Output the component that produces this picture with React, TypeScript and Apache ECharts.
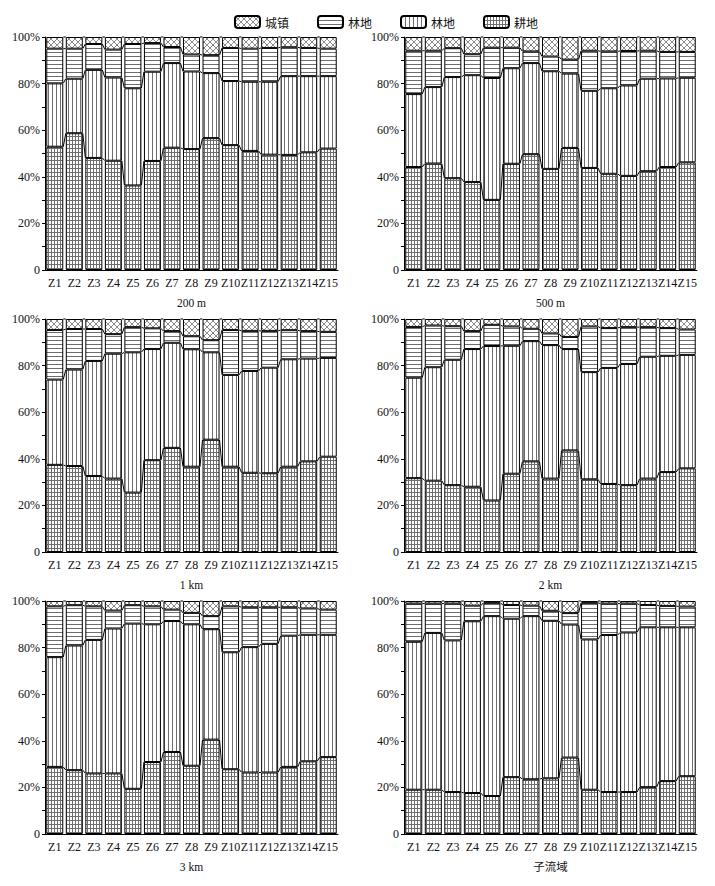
import React, { useEffect, useRef } from 'react';
import * as echarts from 'echarts';

const categories = ['Z1', 'Z2', 'Z3', 'Z4', 'Z5', 'Z6', 'Z7', 'Z8', 'Z9', 'Z10', 'Z11', 'Z12', 'Z13', 'Z14', 'Z15'];
const panelTitles = ['200 m', '500 m', '1 km', '2 km', '3 km', '子流域'];
const legendNames = ['城镇', '林地', '林地', '耕地'];

// 200 m
const town200m = [5.0, 5.0, 3.0, 5.4, 3.0, 2.6, 4.3, 7.5, 7.8, 4.7, 5.0, 4.7, 4.4, 4.7, 5.0];
const hLand200m = [14.9, 12.9, 11.1, 12.0, 19.0, 12.3, 6.9, 7.3, 7.7, 14.2, 14.2, 14.5, 12.4, 12.1, 11.8];
const vLand200m = [27.2, 23.4, 37.8, 35.7, 41.7, 38.3, 36.3, 33.3, 27.9, 27.5, 29.7, 31.3, 33.8, 32.7, 31.1];
const farm200m = [52.9, 58.7, 48.1, 46.9, 36.3, 46.8, 52.5, 51.9, 56.6, 53.6, 51.1, 49.5, 49.4, 50.5, 52.1];
// 500 m
const town500m = [5.9, 5.9, 4.8, 7.4, 4.6, 4.6, 6.2, 8.4, 9.7, 5.9, 6.2, 6.0, 5.9, 6.4, 6.4];
const hLand500m = [18.6, 15.6, 12.4, 9.0, 13.0, 8.8, 5.0, 6.3, 6.0, 17.2, 15.8, 14.8, 12.0, 11.4, 11.1];
const vLand500m = [31.3, 32.8, 43.4, 45.8, 52.3, 41.0, 39.1, 41.9, 31.9, 33.1, 36.7, 38.8, 39.7, 38.0, 36.3];
const farm500m = [44.2, 45.7, 39.4, 37.8, 30.1, 45.6, 49.7, 43.4, 52.4, 43.8, 41.3, 40.4, 42.4, 44.2, 46.2];
// 1 km
const town1km = [4.7, 4.3, 4.3, 6.5, 3.5, 4.0, 5.2, 7.4, 9.1, 4.7, 5.1, 5.1, 4.8, 5.2, 5.5];
const hLand1km = [21.3, 17.4, 13.7, 8.4, 10.8, 8.9, 5.0, 5.6, 5.2, 19.3, 17.2, 15.8, 12.5, 11.8, 11.2];
const vLand1km = [36.6, 41.4, 49.4, 53.6, 60.2, 47.7, 45.1, 50.4, 37.5, 39.4, 43.7, 45.3, 46.1, 44.1, 42.4];
const farm1km = [37.4, 36.9, 32.6, 31.5, 25.5, 39.4, 44.7, 36.6, 48.2, 36.6, 34.0, 33.8, 36.6, 38.9, 40.9];
// 2 km
const town2km = [3.4, 2.8, 3.1, 5.2, 2.5, 3.2, 4.2, 6.2, 7.7, 3.2, 3.9, 3.5, 3.5, 3.9, 4.5];
const hLand2km = [21.8, 17.9, 14.4, 7.7, 9.1, 8.3, 5.3, 5.0, 5.2, 19.6, 17.1, 15.8, 12.7, 11.9, 10.9];
const vLand2km = [43.1, 48.7, 53.8, 59.1, 66.3, 54.9, 51.6, 57.3, 43.5, 46.0, 49.8, 52.0, 52.3, 49.9, 48.7];
const farm2km = [31.7, 30.6, 28.7, 28.0, 22.1, 33.6, 38.9, 31.5, 43.6, 31.2, 29.2, 28.7, 31.5, 34.3, 35.9];
// 3 km
const town3km = [2.3, 1.8, 2.3, 4.1, 1.8, 2.3, 3.7, 5.1, 6.5, 2.3, 2.7, 2.7, 2.7, 3.2, 3.7];
const hLand3km = [21.8, 17.3, 14.4, 7.7, 7.9, 7.7, 4.9, 4.9, 5.6, 19.7, 17.1, 15.7, 12.2, 11.3, 10.8];
const vLand3km = [47.1, 53.5, 57.3, 62.2, 70.9, 59.1, 56.2, 60.7, 47.4, 50.2, 53.8, 55.2, 56.3, 54.3, 52.5];
const farm3km = [28.8, 27.4, 26.0, 26.0, 19.4, 30.9, 35.2, 29.3, 40.5, 27.8, 26.4, 26.4, 28.8, 31.2, 33.0];
// 子流域
const townSub = [1.1, 1.1, 1.1, 2.0, 0.8, 1.7, 2.0, 4.2, 5.2, 0.8, 1.1, 1.1, 1.7, 2.1, 2.4];
const hLandSub = [16.4, 12.6, 15.8, 6.7, 5.7, 5.9, 4.5, 4.3, 4.9, 15.7, 13.5, 12.4, 9.6, 9.2, 8.9];
const vLandSub = [63.5, 67.3, 65.1, 73.7, 77.2, 68.0, 70.0, 67.6, 57.1, 64.5, 67.4, 68.5, 68.6, 66.0, 63.9];
const farmSub = [19.0, 19.0, 18.0, 17.6, 16.3, 24.4, 23.5, 23.9, 32.8, 19.0, 18.0, 18.0, 20.1, 22.7, 24.8];

const panels = [
  { farm: farm200m, v: vLand200m, h: hLand200m, town: town200m },
  { farm: farm500m, v: vLand500m, h: hLand500m, town: town500m },
  { farm: farm1km, v: vLand1km, h: hLand1km, town: town1km },
  { farm: farm2km, v: vLand2km, h: hLand2km, town: town2km },
  { farm: farm3km, v: vLand3km, h: hLand3km, town: town3km },
  { farm: farmSub, v: vLandSub, h: hLandSub, town: townSub },
];

const GAP = 0.13;
const FONT = "'Liberation Serif', 'Noto Sans CJK SC', serif";
const LINE = '#6e6e6e';

function makePattern(kind: string) {
  let w = 4, h = 4;
  if (kind === 'cross') { w = 6; h = 6; }
  if (kind === 'grid') { w = 3; h = 4; }
  if (kind === 'h') { w = 4; h = 4; }
  if (kind === 'v') { w = 4; h = 4; }
  const c = document.createElement('canvas');
  c.width = w; c.height = h;
  const ctx = c.getContext('2d')!;
  ctx.fillStyle = '#ffffff';
  ctx.fillRect(0, 0, w, h);
  ctx.fillStyle = LINE;
  ctx.strokeStyle = LINE;
  if (kind === 'h') ctx.fillRect(0, 0, w, 1);
  if (kind === 'v') ctx.fillRect(0, 0, 1, h);
  if (kind === 'grid') { ctx.fillRect(0, 0, w, 1); ctx.fillRect(0, 0, 1, h); }
  if (kind === 'cross') {
    ctx.lineWidth = 0.8;
    ctx.beginPath();
    for (const k of [-w, 0, w]) {
      ctx.moveTo(k, 0); ctx.lineTo(k + w, h);
      ctx.moveTo(k + w, 0); ctx.lineTo(k, h);
    }
    ctx.stroke();
  }
  return { image: c, repeat: 'repeat', imageWidth: w, imageHeight: h } as any;
}

export default function App() {
  const ref = useRef<HTMLDivElement>(null);
  useEffect(() => {
    if (!ref.current) return;
    const chart = echarts.init(ref.current, null, { renderer: 'svg' });
    const pat = {
      cross: makePattern('cross'),
      h: makePattern('h'),
      v: makePattern('v'),
      grid: makePattern('grid'),
    };
    const tops = [37, 319, 601];
    const lefts = [45, 404];
    const grids: any[] = [];
    const xAxes: any[] = [];
    const yAxes: any[] = [];
    const series: any[] = [];
    panels.forEach((p, idx) => {
      const row = Math.floor(idx / 2);
      const col = idx % 2;
      grids.push({ left: lefts[col], top: tops[row], width: 293, height: 233 });
      xAxes.push({
        type: 'category', gridIndex: idx, data: categories,
        name: panelTitles[idx], nameLocation: 'middle', nameGap: 27,
        nameTextStyle: { fontFamily: FONT, fontSize: 11.5, color: '#111' },
        axisLine: { lineStyle: { color: '#000', width: 1 } },
        axisTick: { show: false },
        axisLabel: { interval: 0, fontFamily: FONT, fontSize: 12, color: '#111', margin: 7 },
      });
      yAxes.push({
        type: 'value', gridIndex: idx, min: 0, max: 100, interval: 10,
        splitLine: { show: false },
        axisLine: { show: true, lineStyle: { color: '#000', width: 1 } },
        axisTick: { show: true, length: 3, lineStyle: { color: '#000' } },
        axisLabel: {
          fontFamily: FONT, fontSize: 12, color: '#111', margin: 5,
          formatter: (v: number) => (v === 0 ? '0' : v % 20 === 0 ? v + '%' : ''),
        },
      });
      const common = {
        type: 'bar', xAxisIndex: idx, yAxisIndex: idx, stack: 'p' + idx,
        barCategoryGap: (GAP * 100) + '%',
      };
      const border = { borderColor: '#000', borderWidth: 1 };
      series.push({ ...common, name: '耕地', data: p.farm, itemStyle: { color: pat.grid, ...border } });
      series.push({ ...common, name: '林地V', data: p.v, itemStyle: { color: pat.v, ...border } });
      series.push({ ...common, name: '林地H', data: p.h, itemStyle: { color: pat.h, ...border } });
      series.push({ ...common, name: '城镇', data: p.town, itemStyle: { color: pat.cross, ...border } });
      const cum = p.farm.map((f, i) => [f, f + p.v[i], f + p.v[i] + p.h[i], 100]);
      series.push({
        type: 'custom', xAxisIndex: idx, yAxisIndex: idx, silent: true, z: 5,
        data: categories.slice(0, -1).map((_, i) => [i, 0]),
        encode: { x: 0, y: 1 },
        renderItem: (params: any, api: any) => {
          const i = api.value(0);
          const band = api.size([1, 0])[0];
          const half = (band * (1 - GAP)) / 2;
          const children = cum[i].map((lv, k) => {
            const a = api.coord([i, lv]);
            const b = api.coord([i + 1, cum[i + 1][k]]);
            return {
              type: 'line',
              shape: { x1: a[0] + half, y1: a[1], x2: b[0] - half, y2: b[1] },
              style: { stroke: '#000', lineWidth: 1 },
            };
          });
          return { type: 'group', children };
        },
      });
    });
    chart.setOption({
      animation: false,
      backgroundColor: '#fff',
      legend: {
        data: ['城镇', '林地H', '林地V', '耕地'],
        left: 229, top: 10,
        itemWidth: 25, itemHeight: 12, itemGap: 28,
        formatter: (n: string) => n.replace(/[HV]$/, ''),
        textStyle: { fontFamily: "'Noto Sans CJK SC', sans-serif", fontSize: 12, color: '#111' },
        selectedMode: false,
      },
      grid: grids,
      xAxis: xAxes,
      yAxis: yAxes,
      series,
    });
    return () => chart.dispose();
  }, []);
  return <div ref={ref} style={{ position: 'fixed', left: 0, top: 0, width: 715, height: 886 }} />;
}
